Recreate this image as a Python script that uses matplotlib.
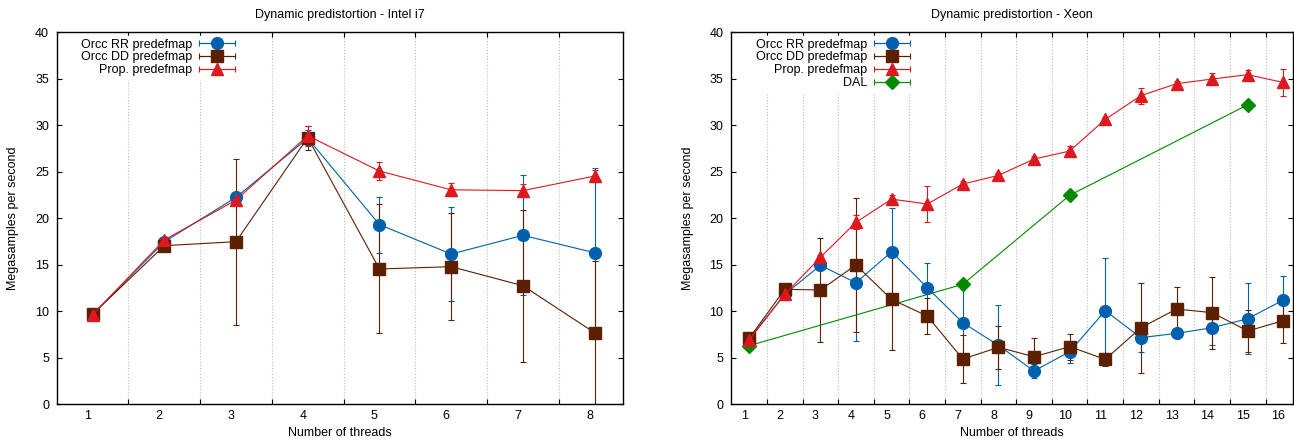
import numpy as np
import matplotlib
matplotlib.use("Agg")
import matplotlib.pyplot as plt
from matplotlib.legend_handler import HandlerErrorbar

plt.rcParams['font.family'] = ['Liberation Sans', 'DejaVu Sans']
plt.rcParams['font.size'] = 9

# --- DATA: Intel i7 ---
i7_threads = [1, 2, 3, 4, 5, 6, 7, 8]
i7_rr = [9.65, 17.45, 22.24, 28.6, 19.3, 16.14, 18.15, 16.28]
i7_rr_err = [0.3, 0.3, 0.3, 0.85, 3.0, 5.03, 6.47, 9.15]
i7_dd = [9.65, 17.04, 17.47, 28.66, 14.53, 14.78, 12.73, 7.67]
i7_dd_err = [0.3, 0.3, 8.93, 1.3, 6.94, 5.76, 8.2, 7.67]
i7_prop = [9.6, 17.65, 21.95, 28.87, 25.07, 23.05, 22.96, 24.53]
i7_prop_err = [0.3, 0.3, 0.3, 1.0, 0.95, 0.7, 0.72, 0.6]

# --- DATA: Xeon ---
xeon_threads = list(range(1, 17))
xeon_rr = [7.0, 11.8, 14.92, 13.05, 16.39, 12.52, 8.75, 6.31,
           3.55, 5.63, 10.04, 7.14, 7.6, 8.21, 9.18, 11.19]
xeon_rr_err = [0.3, 0.5, 0.3, 6.23, 4.74, 2.62, 3.9, 4.3,
               0.72, 1.2, 5.67, 1.5, 0.3, 1.83, 3.8, 2.55]
xeon_dd = [7.07, 12.34, 12.27, 14.96, 11.26, 9.47, 4.84, 6.1,
           5.09, 6.17, 4.81, 8.21, 10.22, 9.83, 7.86, 8.97]
xeon_dd_err = [0.3, 0.3, 5.56, 7.17, 5.45, 1.92, 2.55, 2.3,
               2.05, 1.4, 0.7, 4.85, 2.37, 3.86, 2.3, 2.42]
xeon_prop = [6.89, 11.8, 15.78, 19.55, 22.05, 21.52, 23.67, 24.6,
             26.36, 27.22, 30.63, 33.18, 34.47, 34.97, 35.44, 34.6]
xeon_prop_err = [0.3, 0.5, 0.3, 0.75, 0.4, 1.9, 0.3, 0.3,
                 0.3, 0.5, 0.3, 0.85, 0.3, 0.6, 0.55, 1.45]
dal_threads = [1, 7, 10, 15]
dal = [6.28, 12.88, 22.46, 32.2]

BLUE = '#0060ad'
BROWN = '#5a2000'
RED = '#dd181f'
GREEN = '#008a00'

LW = 0.8
CAP = 2.2

series_style = {
    'rr': dict(color=BLUE, marker='o', ms=8.5, label='Orcc RR predefmap'),
    'dd': dict(color=BROWN, marker='s', ms=8.5, label='Orcc DD predefmap'),
    'prop': dict(color=RED, marker='^', ms=9, label='Prop. predefmap'),
    'dal': dict(color=GREEN, marker='D', ms=7, label='DAL'),
}


def draw_series(ax, x, y, err, key):
    st = series_style[key]
    if err is None:
        ax.plot(x, y, color=st['color'], marker=st['marker'], ms=st['ms'], lw=LW)
    else:
        ax.errorbar(x, y, yerr=err, color=st['color'], marker=st['marker'],
                    ms=st['ms'], lw=LW, elinewidth=LW, capsize=CAP, capthick=LW)
    # legend proxy (gnuplot style: horizontal bar with caps)
    return ax.errorbar([np.nan], [np.nan], xerr=[1], color=st['color'],
                       marker=st['marker'], ms=st['ms'], lw=LW, elinewidth=LW,
                       capsize=CAP, capthick=LW, label=st['label'])


def style_axes(ax, threads, xlim, label_off, title):
    ax.set_xlim(*xlim)
    ax.set_ylim(0, 40)
    ax.set_xticks([t - label_off for t in threads])
    ax.set_xticklabels([str(t) for t in threads])
    ax.set_xticks([t + 0.5 for t in threads[:-1]], minor=True)
    ax.tick_params(axis='x', which='major', length=0, pad=4.5)
    ax.tick_params(axis='x', which='minor', direction='in', length=3.6,
                   width=LW, top=True, bottom=True)
    ax.set_yticks(range(0, 41, 5))
    ax.tick_params(axis='y', direction='in', length=3.6, width=LW,
                   left=True, right=True, pad=5.5)
    ax.grid(which='minor', axis='x', color='#bbbbbb', linestyle=':', linewidth=0.8)
    for s in ax.spines.values():
        s.set_linewidth(1.0)
    ax.set_title(title, fontsize=9, pad=10)
    ax.set_xlabel('Number of threads')
    ax.set_ylabel('Megasamples per second')
    ax.xaxis.set_label_coords(0.5, -0.062)
    ax.yaxis.set_label_coords(-0.066, 0.5)


def add_legend(ax, handles, anchor_x):
    hmap = {h: HandlerErrorbar(xerr_size=1.44) for h in handles}
    leg = ax.legend(handles=handles, loc='upper right',
                    bbox_to_anchor=(anchor_x, 0.99), borderaxespad=0,
                    borderpad=0.2, markerfirst=False, handlelength=2.9,
                    handletextpad=0.55, labelspacing=0.07, fontsize=9,
                    frameon=True, fancybox=False, facecolor='white',
                    edgecolor='white', framealpha=1, handler_map=hmap)
    for col in leg._legend_box.get_children()[1].get_children():
        col.align = 'right'
    return leg


fig = plt.figure(figsize=(12.94, 4.43), dpi=100)
ax1 = fig.add_axes([0.0438, 0.088, 0.4379, 0.8391])
ax2 = fig.add_axes([0.5649, 0.088, 0.4343, 0.8391])

# Intel i7
h = [draw_series(ax1, i7_threads, i7_rr, i7_rr_err, 'rr'),
     draw_series(ax1, i7_threads, i7_dd, i7_dd_err, 'dd'),
     draw_series(ax1, i7_threads, i7_prop, i7_prop_err, 'prop')]
style_axes(ax1, i7_threads, (0.5, 8.4), 0.07, 'Dynamic predistortion - Intel i7')
add_legend(ax1, h, 0.319)

# Xeon
h = [draw_series(ax2, xeon_threads, xeon_rr, xeon_rr_err, 'rr'),
     draw_series(ax2, xeon_threads, xeon_dd, xeon_dd_err, 'dd'),
     draw_series(ax2, xeon_threads, xeon_prop, xeon_prop_err, 'prop'),
     draw_series(ax2, dal_threads, dal, None, 'dal')]
style_axes(ax2, xeon_threads, (0.49, 16.27), 0.14, 'Dynamic predistortion - Xeon')
add_legend(ax2, h, 0.323)

fig.savefig('out.png', dpi=100)
